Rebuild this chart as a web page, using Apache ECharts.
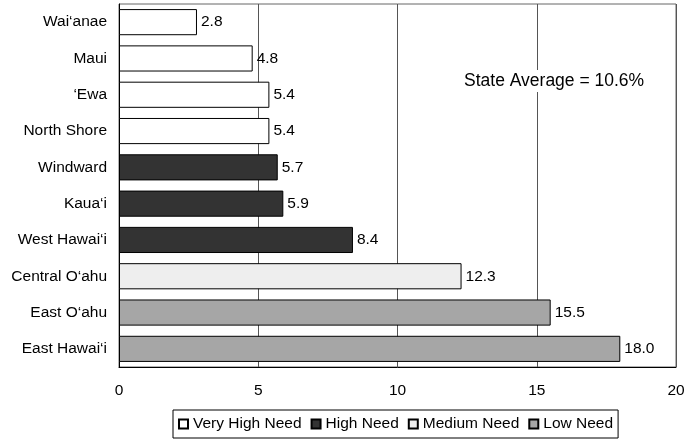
<!DOCTYPE html>
<html><head><meta charset="utf-8">
<script src="https://cdn.jsdelivr.net/npm/echarts@6/dist/echarts.min.js"></script>
<style>html,body{margin:0;padding:0;background:#fff}#c{width:690px;height:440px}</style>
</head><body><div id="c"></div>
<script>
const categories = ["Wai\u2018anae","Maui","\u2018Ewa","North Shore","Windward","Kaua\u2018i","West Hawai\u2018i","Central O\u2018ahu","East O\u2018ahu","East Hawai\u2018i"];
const veryHighNeed = [2.8,4.8,5.4,5.4,null,null,null,null,null,null];
const highNeed     = [null,null,null,null,5.7,5.9,8.4,null,null,null];
const mediumNeed   = [null,null,null,null,null,null,null,12.3,null,null];
const lowNeed      = [null,null,null,null,null,null,null,null,15.5,18.0];
const xTicks = [0,5,10,15,20];
const annotation = "State Average = 10.6%";

const font = "Liberation Sans, Arial, sans-serif";
const fs = 15.5;
function mk(name, data, color){
  return {
    name, type:'bar', stack:'s', data: data.map(v=>v==null?'-':v),
    barCategoryGap:'28%',
    itemStyle:{color, borderColor:'#000', borderWidth:1},
    label:{show:true, position:'right', distance:4, color:'#000', fontSize:fs, fontFamily:font,
      formatter:p=>Number(p.value).toFixed(1)},
    emphasis:{disabled:true}, animation:false
  };
}
const chart = echarts.init(document.getElementById('c'), null, {renderer:'canvas'});
chart.setOption({
  animation:false,
  grid:{left:119, right:14, top:4, bottom:73, show:true, borderColor:'#666', borderWidth:1, backgroundColor:'transparent'},
  xAxis:{type:'value', min:xTicks[0], max:xTicks[xTicks.length-1], interval:5,
    axisLine:{show:true, lineStyle:{color:'#000'}}, axisTick:{show:false},
    axisLabel:{fontSize:fs, fontFamily:font, color:'#000', margin:16},
    splitLine:{show:true, lineStyle:{color:'#555', width:1}}},
  yAxis:{type:'category', data:categories, inverse:true,
    axisLine:{show:true, lineStyle:{color:'#000'}}, axisTick:{show:false},
    axisLabel:{fontSize:fs, fontFamily:font, color:'#000', margin:12}},
  legend:{left:173, bottom:2, icon:'rect', itemWidth:9, itemHeight:9, itemGap:9,
    borderColor:'#000', borderWidth:1, padding:[6,5,6,5],
    textStyle:{fontSize:fs, fontFamily:font, color:'#000'},
    data:['Very High Need','High Need','Medium Need','Low Need']},
  graphic:[{type:'text', left:463, top:70, z:100,
    style:{text:annotation, font:'17.5px '+font, fill:'#000', backgroundColor:'#fff', padding:[2,1]}}],
  series:[
    mk('Very High Need', veryHighNeed, '#ffffff'),
    mk('High Need', highNeed, '#333333'),
    mk('Medium Need', mediumNeed, '#eeeeee'),
    mk('Low Need', lowNeed, '#a6a6a6')
  ]
});
</script></body></html>
